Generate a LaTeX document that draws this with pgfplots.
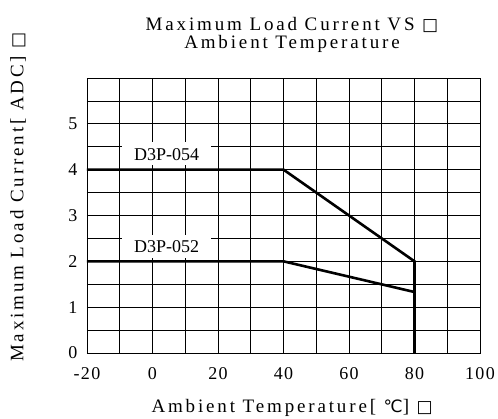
\documentclass[border=0pt]{standalone}
\usepackage{pgfplots}
\pgfplotsset{compat=1.18}
\usepackage{fontspec}
\setmainfont[LetterSpace=15]{Liberation Serif}
\newfontfamily\plainfont{Liberation Serif}
\newfontfamily\tickfont[LetterSpace=8]{Liberation Serif}
\newfontfamily\symfont{DejaVu Sans}
\newcommand{\bx}{{\symfont\fontsize{17}{17}\selectfont □}}
\begin{document}
\begin{tikzpicture}
\begin{axis}[
  scale only axis, width=393pt, height=275pt,
  xmin=-20, xmax=100, ymin=0, ymax=6,
  xtick={-20,0,...,100}, ytick={0,1,...,5},
  minor xtick={-10,10,...,90}, minor ytick={0.5,1.5,...,5.5,6},
  grid=both, major grid style={black, line width=0.8pt}, minor grid style={black, line width=0.8pt},
  axis line style={black, line width=0.9pt},
  tick style={draw=none},
  /pgf/number format/assume math mode=true,
  ticklabel style={font=\tickfont\fontsize{18}{18}\selectfont},
  xticklabel style={yshift=-11pt},
  yticklabel style={xshift=-6pt},
  title={Maximum Load Current VS \bx\\Ambient Temperature},
  title style={align=center, font=\fontsize{19}{18}\selectfont, at={(axis description cs:0.5216,1.2127)}, anchor=north},
  xlabel={Ambient Temperature[ {\symfont\fontsize{17}{17}\selectfont ℃}] \bx},
  ylabel={Maximum Load Current[ ADC] \bx},
  xlabel style={font=\fontsize{19}{19}\selectfont, at={(axis description cs:0.522,-0.2)}, anchor=center},
  ylabel style={font=\fontsize{19}{19}\selectfont, at={(axis description cs:-0.1756,0.567)}, anchor=center},
  clip=false,
]
\addplot[black, line width=2.6pt] coordinates {(-20,4) (40,4) (80,2) (80,0)};
\addplot[black, line width=2.6pt] coordinates {(-20,2) (40,2) (80,1.33) (80,0)};
\node[fill=white, inner xsep=12pt, inner ysep=5pt, text height=13pt, text depth=0pt, font=\plainfont\fontsize{18}{18}\selectfont] at (axis cs:4.3,4.35) {D3P-054};
\node[fill=white, inner xsep=12pt, inner ysep=5pt, text height=13pt, text depth=0pt, font=\plainfont\fontsize{18}{18}\selectfont] at (axis cs:4.3,2.33) {D3P-052};
\end{axis}
\pgfresetboundingbox
\path (current axis.south west) ++(-87pt,-66pt) coordinate (bl);
\path (current axis.north east) ++(18pt,78pt) coordinate (tr);
\path[use as bounding box] (bl) rectangle (tr);
\end{tikzpicture}
\end{document}
